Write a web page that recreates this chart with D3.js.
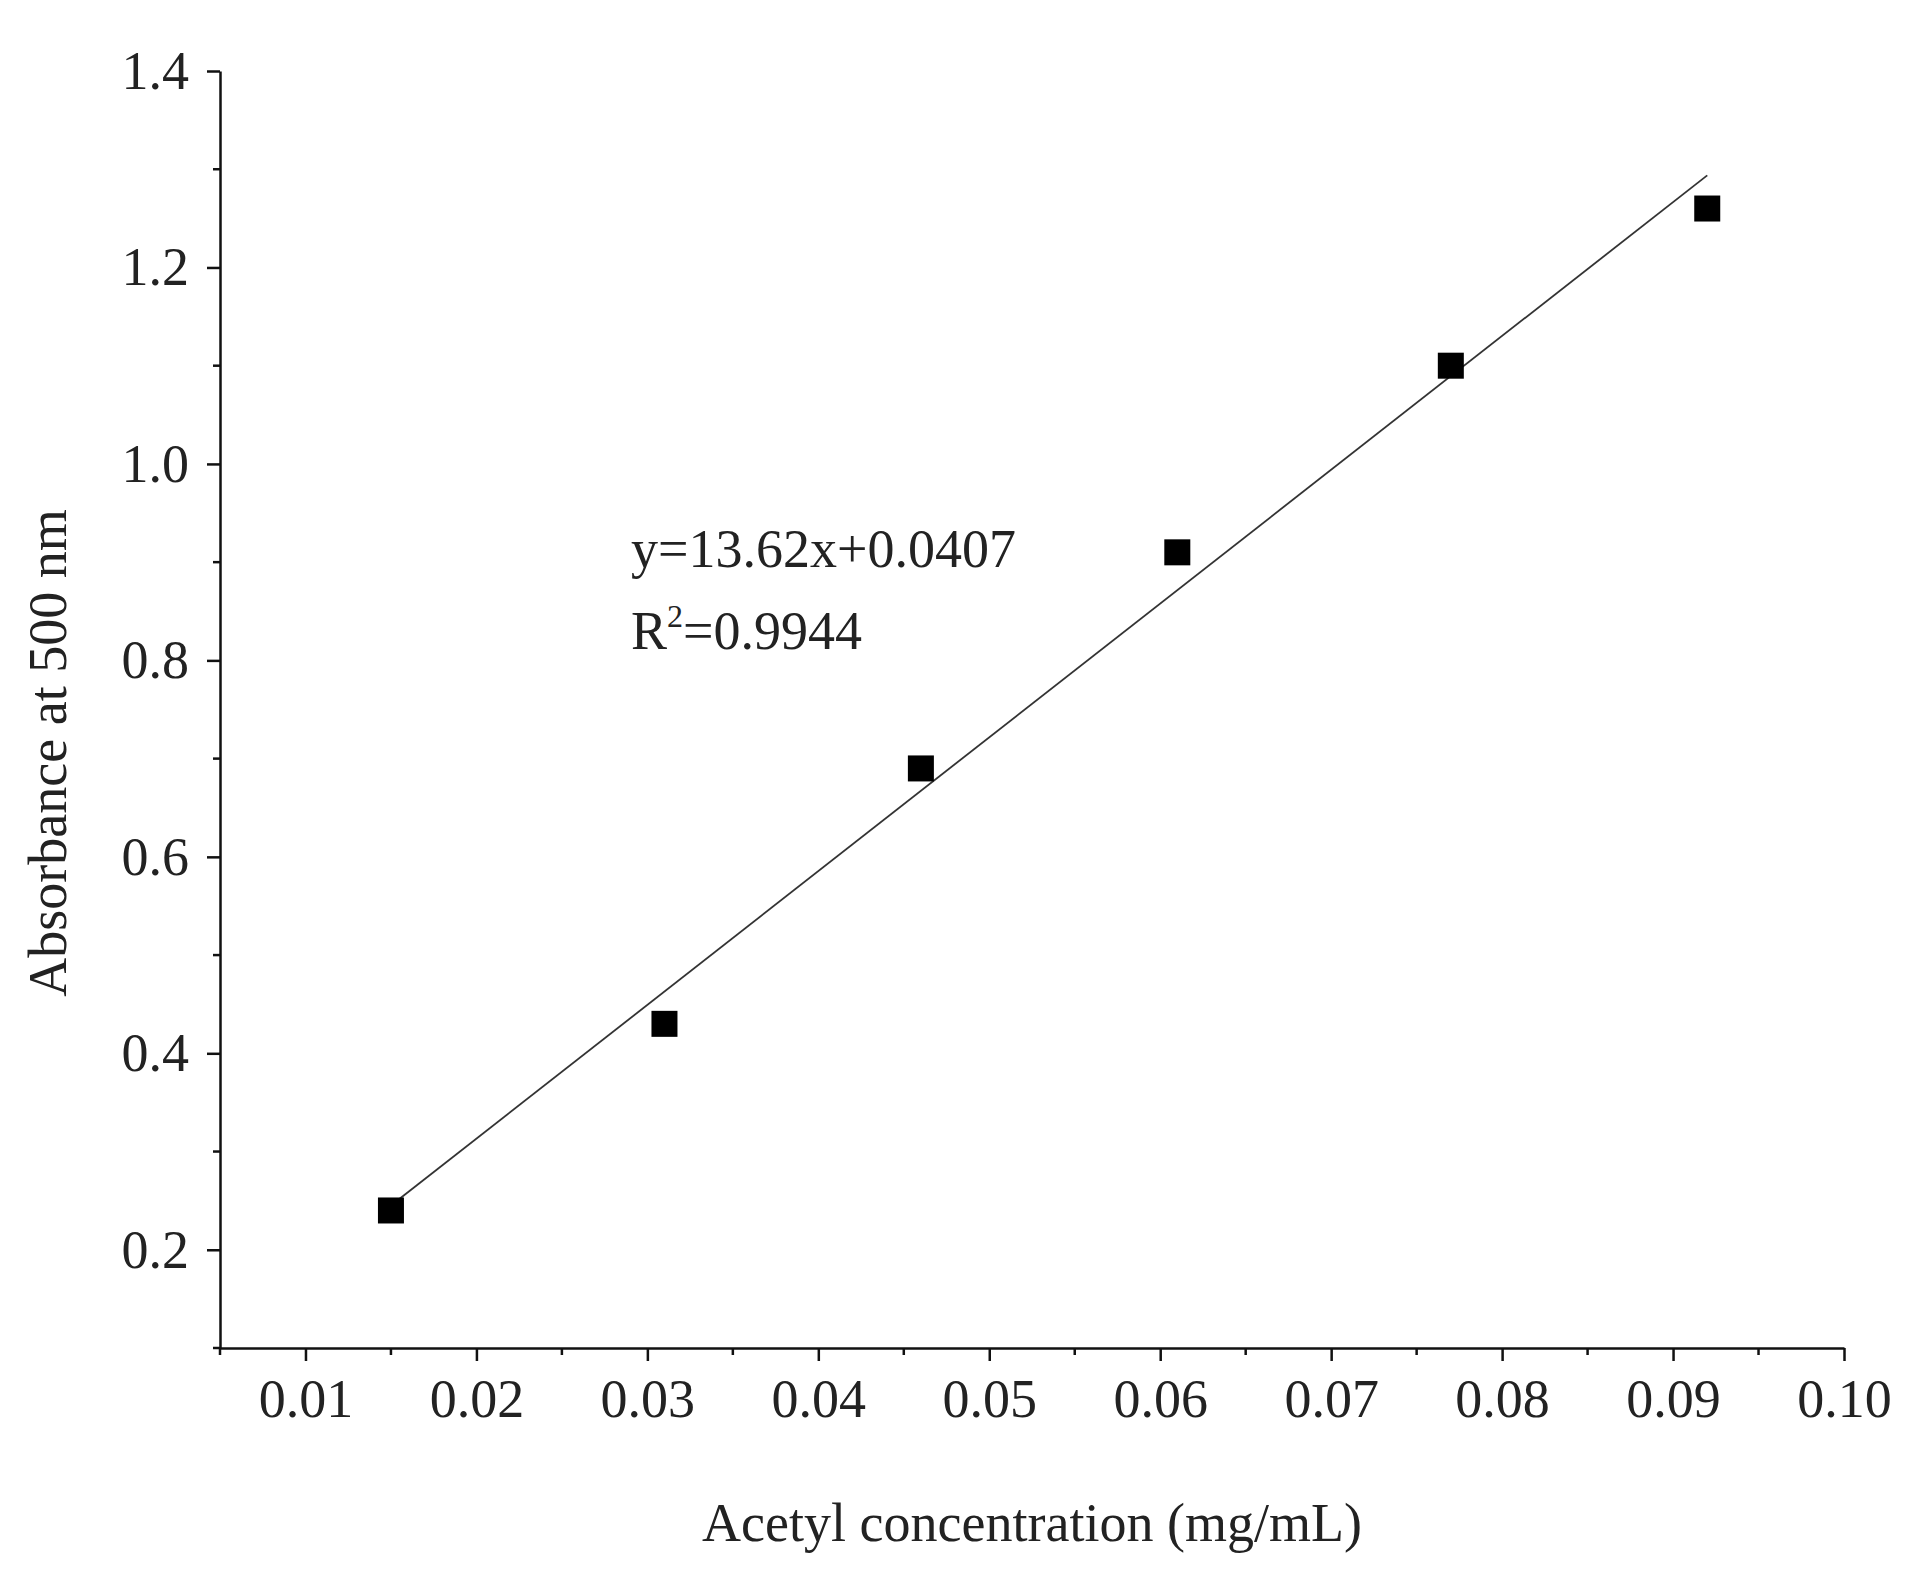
<!DOCTYPE html>
<html>
<head>
<script src="https://d3js.org/d3.v7.min.js"></script>
<style>
body {margin:0; background:#fff;}
text {font-family: "Liberation Serif", "Times New Roman", serif; fill:#222;}
</style>
</head>
<body>
<svg id="chart" width="1920" height="1593"></svg>
<script>
// data
var conc = [0.015, 0.031, 0.046, 0.061, 0.077, 0.092];
var absorb = [0.24, 0.43, 0.69, 0.91, 1.10, 1.26];
var slope = 13.62, intercept = 0.0407;
var xTicks = [0.01, 0.02, 0.03, 0.04, 0.05, 0.06, 0.07, 0.08, 0.09, 0.10];
var yTicks = [0.2, 0.4, 0.6, 0.8, 1.0, 1.2, 1.4];

var svg = d3.select("#chart");
var x = d3.scaleLinear([0.005, 0.10], [220, 1844]);
var y = d3.scaleLinear([0.1, 1.4], [1348, 71]);

var xMinor = d3.range(0.005, 0.1001, 0.005).map(v => +v.toFixed(3)).filter(v => !xTicks.some(t => Math.abs(t - v) < 1e-6));
var yMinor = d3.range(0.1, 1.401, 0.1).map(v => +v.toFixed(2)).filter(v => !yTicks.some(t => Math.abs(t - v) < 1e-6));

var xAxis = svg.append("g").attr("transform", "translate(0," + y(0.1) + ")")
    .call(d3.axisBottom(x).tickValues(xTicks).tickFormat(d3.format(".2f")).tickSize(13).tickPadding(18).tickSizeOuter(0));
xAxis.append("g").selectAll("line").data(xMinor).join("line")
    .attr("x1", d => x(d)).attr("x2", d => x(d)).attr("y1", 0).attr("y2", 7).attr("stroke", "#111").attr("stroke-width", 2.5);

var yAxis = svg.append("g").attr("transform", "translate(" + x(0.005) + ",0)")
    .call(d3.axisLeft(y).tickValues(yTicks).tickFormat(d3.format(".1f")).tickSize(13).tickPadding(18).tickSizeOuter(0));
yAxis.append("g").selectAll("line").data(yMinor).join("line")
    .attr("y1", d => y(d)).attr("y2", d => y(d)).attr("x1", 0).attr("x2", -7).attr("stroke", "#111").attr("stroke-width", 2.5);

svg.selectAll(".domain, .tick line").attr("stroke", "#111").attr("stroke-width", 2.5);
svg.selectAll(".tick text").style("font-size", "54px").attr("fill", "#222");

// fitted line
svg.append("line")
    .attr("x1", x(conc[0])).attr("y1", y(slope * conc[0] + intercept))
    .attr("x2", x(conc[conc.length - 1])).attr("y2", y(slope * conc[conc.length - 1] + intercept))
    .attr("stroke", "#333").attr("stroke-width", 1.8);

// points
svg.selectAll("rect.pt").data(conc).join("rect").attr("class", "pt")
    .attr("x", d => x(d) - 13).attr("y", (d, i) => y(absorb[i]) - 13)
    .attr("width", 26).attr("height", 26).attr("fill", "#000");

svg.append("text").attr("x", 1032).attr("y", 1541).attr("text-anchor", "middle")
    .style("font-size", "54px").text("Acetyl concentration (mg/mL)");
svg.append("text").attr("transform", "translate(66,753) rotate(-90)").attr("text-anchor", "middle")
    .style("font-size", "54px").text("Absorbance at 500 nm");

svg.append("text").attr("x", 631).attr("y", 567).style("font-size", "54px").text("y=13.62x+0.0407");
var r = svg.append("text").attr("x", 631).attr("y", 649).style("font-size", "54px");
r.append("tspan").text("R");
r.append("tspan").attr("dy", -22).style("font-size", "32px").text("2");
r.append("tspan").attr("dy", 22).text("=0.9944");
</script>
</body>
</html>
